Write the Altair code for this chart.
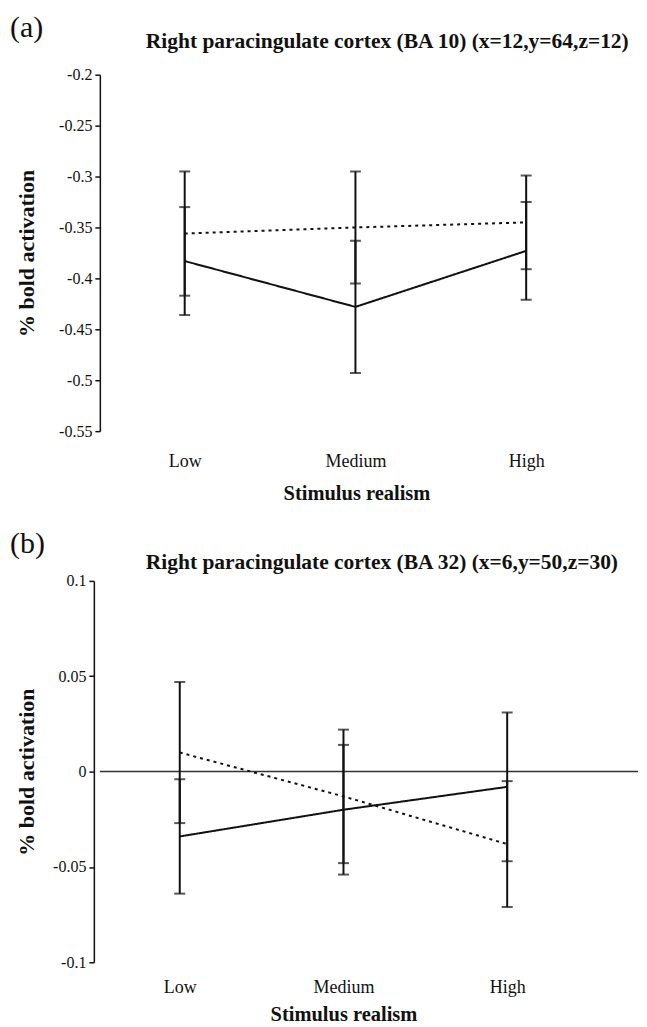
import altair as alt
import pandas as pd

CATEGORIES = ["Low", "Medium", "High"]
POSITIONS = [1, 2, 3]
X_TITLE = "Stimulus realism"
Y_TITLE = "% bold activation"

A_TAG = "(a)"
A_TITLE = "Right paracingulate cortex (BA 10) (x=12,y=64,z=12)"
A_SOLID_MEAN = [-0.383, -0.428, -0.373]
A_SOLID_ERR = [0.053, 0.065, 0.048]
A_DOTTED_MEAN = [-0.356, -0.350, -0.345]
A_DOTTED_ERR = [0.061, 0.055, 0.046]
A_TICKS = [-0.2, -0.25, -0.3, -0.35, -0.4, -0.45, -0.5, -0.55]

B_TAG = "(b)"
B_TITLE = "Right paracingulate cortex (BA 32) (x=6,y=50,z=30)"
B_SOLID_MEAN = [-0.034, -0.020, -0.008]
B_SOLID_ERR = [0.030, 0.034, 0.039]
B_DOTTED_MEAN = [0.010, -0.013, -0.038]
B_DOTTED_ERR = [0.037, 0.035, 0.033]
B_TICKS = [0.1, 0.05, 0, -0.05, -0.1]

SERIF = "Liberation Serif, Times New Roman, serif"
INK = "#111111"

label_expr = "[" + ",".join("'%s'" % c for c in CATEGORIES) + "][datum.value - 1]"


def panel(tag, title, sm, se, dm, de, ticks, height, xdom, yoff,
          ytitle_x, xlab_pad, xtitle_x, xtitle_y, tag_y, title_y, zero):
    rows = []
    for name, means, errs in (("solid", sm, se), ("dotted", dm, de)):
        for p, c, m, e in zip(POSITIONS, CATEGORIES, means, errs):
            rows.append(dict(series=name, pos=p, cat=c, mean=m, lo=m - e, hi=m + e))
    df = pd.DataFrame(rows)

    xscale = alt.Scale(domain=xdom, nice=False, zero=False)
    yscale = alt.Scale(domain=[min(ticks), max(ticks)], nice=False, zero=False)
    xaxis = alt.Axis(values=POSITIONS, labelExpr=label_expr, domain=False, ticks=False,
                     tickSize=0, grid=False, labelFont=SERIF, labelFontSize=18,
                     labelColor=INK, labelBaseline="middle", labelPadding=xlab_pad,
                     titleFont=SERIF, titleFontSize=20.5, titleFontWeight="bold",
                     titleColor=INK, titleX=xtitle_x, titleY=xtitle_y,
                     titleAlign="center", titleBaseline="middle")
    yaxis = alt.Axis(values=ticks, labelExpr="toString(datum.value)", grid=False,
                     domainColor=INK, domainWidth=1.5, tickColor=INK, tickWidth=1.5,
                     tickSize=5, offset=yoff, labelFont=SERIF, labelFontSize=16,
                     labelColor=INK, labelPadding=3, titleFont=SERIF, titleFontSize=22,
                     titleFontWeight="bold", titleColor=INK, titleX=ytitle_x,
                     titleBaseline="middle")

    def X(field="pos"):
        return alt.X(field + ":Q", scale=xscale, axis=xaxis, title=X_TITLE)

    def Y(field):
        return alt.Y(field + ":Q", scale=yscale, axis=yaxis, title=Y_TITLE)

    base = alt.Chart(df)
    lines = base.mark_line(color=INK, strokeWidth=2).encode(
        x=X(), y=Y("mean"),
        strokeDash=alt.StrokeDash("series:N", scale=alt.Scale(domain=["solid", "dotted"],
                                  range=[[1, 0], [3, 4]]), legend=None),
        order="pos:Q")
    bars = base.mark_rule(color=INK, strokeWidth=2).encode(x=X(), y=Y("lo"), y2="hi:Q")
    cap_lo = base.mark_tick(color=INK, orient="horizontal", size=11, thickness=2).encode(
        x=X(), y=Y("lo"))
    cap_hi = base.mark_tick(color=INK, orient="horizontal", size=11, thickness=2).encode(
        x=X(), y=Y("hi"))

    one = alt.Chart(pd.DataFrame({"k": [0]}))
    tag_t = one.mark_text(text=tag, font=SERIF, fontSize=30, color=INK, align="left",
                          baseline="middle").encode(x=alt.value(-90), y=alt.value(tag_y))
    title_t = one.mark_text(text=title, font=SERIF, fontSize=21.5, fontWeight="bold",
                            color=INK, align="left", baseline="middle").encode(
        x=alt.value(46), y=alt.value(title_y))

    layers = []
    if zero:
        zdf = pd.DataFrame({"mean": [0.0]})
        layers.append(alt.Chart(zdf).mark_rule(color="#333333", strokeWidth=1.5).encode(
            y=Y("mean")))
    layers += [lines, bars, cap_lo, cap_hi, tag_t, title_t]
    return alt.layer(*layers).properties(width=539, height=height)


pa = panel(A_TAG, A_TITLE, A_SOLID_MEAN, A_SOLID_ERR, A_DOTTED_MEAN, A_DOTTED_ERR,
           A_TICKS, 357, [0.503, 3.655], 0, -73, 30, 257, 62, -47, -33, False)
pb = panel(B_TAG, B_TITLE, B_SOLID_MEAN, B_SOLID_ERR, B_DOTTED_MEAN, B_DOTTED_ERR,
           B_TICKS, 382, [0.512, 3.799], 6, -67, 25, 244, 52, -37, -18, True)

chart = alt.vconcat(pa, pb, spacing=25).properties(
    padding={"left": 2, "top": 4, "right": 0, "bottom": 0}
).configure(background="white", view=alt.ViewConfig(strokeWidth=0, stroke="transparent"))

chart.save("out.html", embed_options={"renderer": "svg", "actions": False})
